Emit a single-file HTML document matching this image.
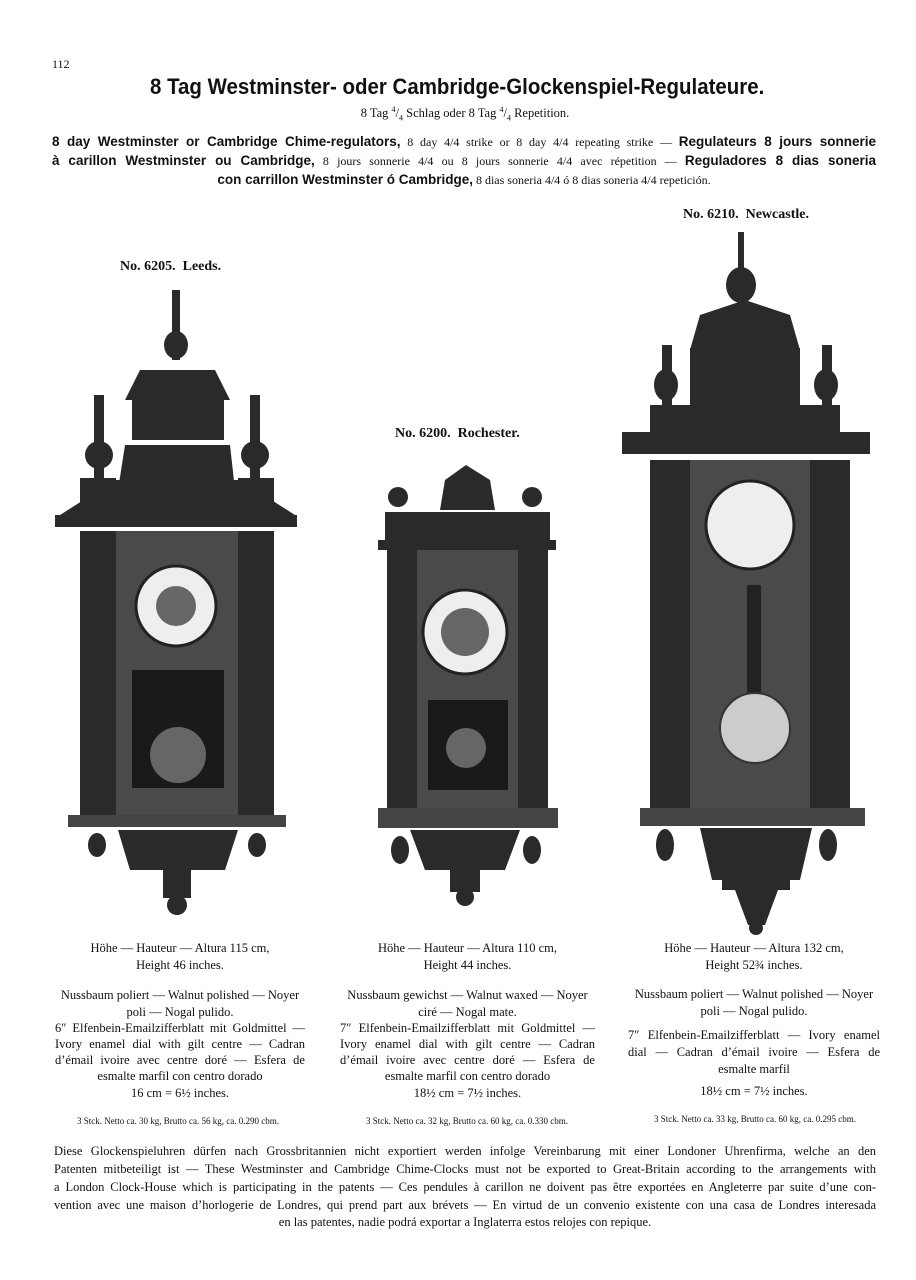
<!DOCTYPE html>
<html><head><meta charset="utf-8"><style>
body{margin:0;background:#fff;}
#p{position:relative;width:916px;height:1280px;overflow:hidden;font-family:"Liberation Serif",serif;color:#111;}
.a{position:absolute;white-space:nowrap;}
.j{position:absolute;white-space:nowrap;text-align:justify;text-align-last:justify;}
.m{position:absolute;white-space:nowrap;text-align:center;}
.s{font-family:"Liberation Sans",sans-serif;font-weight:bold;font-size:13.5px;}
sup{font-size:8px;}
</style></head><body><div id="p">
<div class="a" style="left:52px;top:57px;font-size:12px;">112</div>
<div class="a" style="left:150px;top:74px;font-family:'Liberation Sans',sans-serif;font-weight:bold;font-size:22px;transform:scaleX(0.93);transform-origin:0 0;">8 Tag Westminster- oder Cambridge-Glockenspiel-Regulateure.</div>
<div class="a" style="left:0;width:930px;top:105px;text-align:center;font-size:12.5px;">8 Tag <sup>4</sup>/<sub style="font-size:8px">4</sub> Schlag oder 8 Tag <sup>4</sup>/<sub style="font-size:8px">4</sub> Repetition.</div>
<div style="font-size:12px;">
<div class="j" style="left:52px;width:824px;top:134px;"><span class="s">8 day Westminster or Cambridge Chime-regulators,</span> 8 day 4/4 strike or 8 day 4/4 repeating strike — <span class="s">Regulateurs 8 jours sonnerie</span></div>
<div class="j" style="left:52px;width:824px;top:153px;"><span class="s">à carillon Westminster ou Cambridge,</span> 8 jours sonnerie 4/4 ou 8 jours sonnerie 4/4 avec répetition — <span class="s">Reguladores 8 dias soneria</span></div>
<div class="m" style="left:52px;width:824px;top:172px;"><span class="s">con carrillon Westminster ó Cambridge,</span> 8 dias soneria 4/4 ó 8 dias soneria 4/4 repetición.</div>
</div>
<div class="a" style="left:683px;top:207px;font-weight:bold;font-size:14px;">No. 6210. &nbsp;Newcastle.</div>
<div class="a" style="left:120px;top:259px;font-weight:bold;font-size:14px;">No. 6205. &nbsp;Leeds.</div>
<div class="a" style="left:395px;top:426px;font-weight:bold;font-size:14px;">No. 6200. &nbsp;Rochester.</div>
<svg class="a" style="left:0;top:0" width="916" height="1280">
<g fill="#2a2a2a">
<rect x="172" y="290" width="8" height="70"/><ellipse cx="176" cy="345" rx="12" ry="14"/>
<polygon points="125,400 230,400 215,370 140,370"/>
<rect x="132" y="400" width="92" height="40"/>
<polygon points="118,490 235,490 230,445 125,445"/>
<rect x="94" y="395" width="10" height="90"/><rect x="250" y="395" width="10" height="90"/>
<ellipse cx="99" cy="455" rx="14" ry="14"/><ellipse cx="255" cy="455" rx="14" ry="14"/>
<polygon points="60,515 295,515 240,480 115,480"/>
<rect x="80" y="478" width="36" height="35"/><rect x="238" y="478" width="36" height="35"/>
<rect x="55" y="515" width="242" height="12"/>
<rect x="80" y="531" width="36" height="285"/><rect x="238" y="531" width="36" height="285"/>
<rect x="68" y="815" width="218" height="12" fill="#444"/>
<polygon points="118,830 238,830 225,870 130,870"/>
<rect x="163" y="870" width="28" height="28"/><ellipse cx="177" cy="905" rx="10" ry="10"/>
<ellipse cx="97" cy="845" rx="9" ry="12"/><ellipse cx="257" cy="845" rx="9" ry="12"/>
<circle cx="398" cy="497" r="10"/><circle cx="532" cy="497" r="10"/>
<polygon points="440,510 495,510 490,480 466,465 445,480"/>
<rect x="385" y="512" width="165" height="30"/>
<rect x="378" y="540" width="178" height="10"/>
<rect x="387" y="550" width="30" height="260"/><rect x="518" y="550" width="30" height="260"/>
<rect x="378" y="808" width="180" height="20" fill="#444"/>
<polygon points="410,830 520,830 505,870 425,870"/>
<rect x="450" y="870" width="30" height="22"/><ellipse cx="465" cy="897" rx="9" ry="9"/>
<ellipse cx="400" cy="850" rx="9" ry="14"/><ellipse cx="532" cy="850" rx="9" ry="14"/>
<rect x="738" y="232" width="6" height="40"/><ellipse cx="741" cy="285" rx="15" ry="18"/>
<polygon points="690,350 800,350 790,315 745,300 700,315"/>
<rect x="690" y="348" width="110" height="85"/>
<rect x="662" y="345" width="10" height="85"/><rect x="822" y="345" width="10" height="85"/>
<ellipse cx="666" cy="385" rx="12" ry="16"/><ellipse cx="826" cy="385" rx="12" ry="16"/>
<rect x="650" y="405" width="190" height="30"/>
<rect x="622" y="432" width="248" height="22"/>
<rect x="650" y="460" width="40" height="350"/><rect x="810" y="460" width="40" height="350"/>
<rect x="640" y="808" width="225" height="18" fill="#444"/>
<polygon points="700,828 812,828 800,880 712,880"/>
<rect x="722" y="868" width="68" height="22"/>
<polygon points="735,890 778,890 765,925 748,925"/><circle cx="756" cy="928" r="7"/>
<ellipse cx="665" cy="845" rx="9" ry="16"/><ellipse cx="828" cy="845" rx="9" ry="16"/>
</g>
<g fill="#4a4a4a">
<rect x="116" y="531" width="122" height="284"/>
<rect x="417" y="550" width="101" height="258"/>
<rect x="690" y="460" width="120" height="348"/>
</g>
<g fill="#1a1a1a">
<rect x="132" y="670" width="92" height="118"/>
<rect x="428" y="700" width="80" height="90"/>
</g>
<g fill="#eee" stroke="#222" stroke-width="3">
<circle cx="176" cy="606" r="40"/><circle cx="465" cy="632" r="42"/><circle cx="750" cy="525" r="44"/>
</g>
<g fill="#666"><circle cx="176" cy="606" r="20"/><circle cx="465" cy="632" r="24"/><circle cx="178" cy="755" r="28"/><circle cx="466" cy="748" r="20"/></g>
<rect x="747" y="585" width="14" height="110" fill="#222"/>
<circle cx="755" cy="728" r="35" fill="#ccc" stroke="#333" stroke-width="2"/>
</svg>
<div style="font-size:12.5px;">
<div class="m" style="left:55px;width:250px;top:941px;">Höhe — Hauteur — Altura 115 cm,</div>
<div class="m" style="left:55px;width:250px;top:958px;">Height 46 inches.</div>
<div class="m" style="left:55px;width:250px;top:988px;">Nussbaum poliert — Walnut polished — Noyer</div>
<div class="m" style="left:55px;width:250px;top:1005px;">poli — Nogal pulido.</div>
<div class="j" style="left:55px;width:250px;top:1021px;">6″ Elfenbein-Emailzifferblatt mit Goldmittel —</div>
<div class="j" style="left:55px;width:250px;top:1037px;">Ivory enamel dial with gilt centre — Cadran</div>
<div class="j" style="left:55px;width:250px;top:1053px;">d’émail ivoire avec centre doré — Esfera de</div>
<div class="m" style="left:55px;width:250px;top:1069px;">esmalte marfil con centro dorado</div>
<div class="m" style="left:55px;width:250px;top:1086px;">16 cm = 6½ inches.</div>
<div class="m" style="left:48px;width:260px;top:1116px;font-size:9px;">3 Stck. Netto ca. 30 kg, Brutto ca. 56 kg, ca. 0.290 cbm.</div>
<div class="m" style="left:340px;width:255px;top:941px;">Höhe — Hauteur — Altura 110 cm,</div>
<div class="m" style="left:340px;width:255px;top:958px;">Height 44 inches.</div>
<div class="m" style="left:340px;width:255px;top:988px;">Nussbaum gewichst — Walnut waxed — Noyer</div>
<div class="m" style="left:340px;width:255px;top:1005px;">ciré — Nogal mate.</div>
<div class="j" style="left:340px;width:255px;top:1021px;">7″ Elfenbein-Emailzifferblatt mit Goldmittel —</div>
<div class="j" style="left:340px;width:255px;top:1037px;">Ivory enamel dial with gilt centre — Cadran</div>
<div class="j" style="left:340px;width:255px;top:1053px;">d’émail ivoire avec centre doré — Esfera de</div>
<div class="m" style="left:340px;width:255px;top:1069px;">esmalte marfil con centro dorado</div>
<div class="m" style="left:340px;width:255px;top:1086px;">18½ cm = 7½ inches.</div>
<div class="m" style="left:336px;width:262px;top:1116px;font-size:9px;">3 Stck. Netto ca. 32 kg, Brutto ca. 60 kg, ca. 0.330 cbm.</div>
<div class="m" style="left:628px;width:252px;top:941px;">Höhe — Hauteur — Altura 132 cm,</div>
<div class="m" style="left:628px;width:252px;top:958px;">Height 52¾ inches.</div>
<div class="m" style="left:628px;width:252px;top:987px;">Nussbaum poliert — Walnut polished — Noyer</div>
<div class="m" style="left:628px;width:252px;top:1004px;">poli — Nogal pulido.</div>
<div class="j" style="left:628px;width:252px;top:1028px;">7″ Elfenbein-Emailzifferblatt — Ivory enamel</div>
<div class="j" style="left:628px;width:252px;top:1045px;">dial — Cadran d’émail ivoire — Esfera de</div>
<div class="m" style="left:628px;width:252px;top:1062px;">esmalte marfil</div>
<div class="m" style="left:628px;width:252px;top:1084px;">18½ cm = 7½ inches.</div>
<div class="m" style="left:624px;width:262px;top:1114px;font-size:9px;">3 Stck. Netto ca. 33 kg, Brutto ca. 60 kg, ca. 0.295 cbm.</div>
<div class="j" style="left:54px;width:822px;top:1144px;">Diese Glockenspieluhren dürfen nach Grossbritannien nicht exportiert werden infolge Vereinbarung mit einer Londoner Uhrenfirma, welche an den</div>
<div class="j" style="left:54px;width:822px;top:1162px;">Patenten mitbeteiligt ist — These Westminster and Cambridge Chime-Clocks must not be exported to Great-Britain according to the arrangements with</div>
<div class="j" style="left:54px;width:822px;top:1180px;">a London Clock-House which is participating in the patents — Ces pendules à carillon ne doivent pas être exportées en Angleterre par suite d’une con-</div>
<div class="j" style="left:54px;width:822px;top:1198px;">vention avec une maison d’horlogerie de Londres, qui prend part aux brévets — En virtud de un convenio existente con una casa de Londres interesada</div>
<div class="m" style="left:54px;width:822px;top:1215px;">en las patentes, nadie podrá exportar a Inglaterra estos relojes con repique.</div>
</div>
</div></body></html>
